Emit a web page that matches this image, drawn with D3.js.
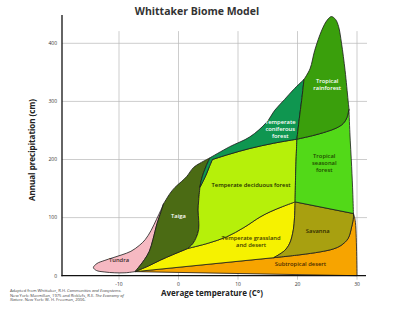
<!DOCTYPE html>
<html><head><meta charset="utf-8">
<script src="https://cdn.jsdelivr.net/npm/d3@7"></script>
<style>body{margin:0;background:#fff}svg{display:block}text{font-family:"Open Sans",sans-serif}</style>
</head><body><svg id="c" width="400" height="309"></svg>
<script>
// ---- data (temperature °C, precipitation cm) ----
const xTicks = [-10, 0, 10, 20, 30];
const yTicks = [0, 100, 200, 300, 400];

const tundraOuter = [[-7.3,7],[-9,5],[-10.7,5],[-12.5,6.5],[-13.8,9],[-14.3,14],[-13.7,21],[-12.5,26],[-11,31],[-9.5,36],[-8,42],[-6.6,52],[-5.6,62],[-4.6,78],[-3.7,97],[-3.0,112],[-2.5,124]];
const tundraTaiga = [[-2.5,124],[-3.0,108],[-3.6,90],[-4.3,62],[-4.9,42],[-5.7,28],[-6.5,17],[-7.3,7]];
const taigaOuter = [[-2.5,124],[-1.4,142],[-0.6,152],[0.5,162],[1.4,171],[2.5,186],[3.5,193],[4.2,197],[5.3,203]];
const taigaRightUpper = [[5.3,203],[4.7,190],[4.2,177],[3.8,163],[3.6,152]];
const taigaRightLower = [[3.6,152],[3.4,130],[3.3,113],[3.4,95],[3.4,80],[3.0,66],[2.4,55],[1.6,47]];
const decidLeftTop = [[5.7,200],[5.2,188],[4.7,175],[4.1,162],[3.6,152]];
const taigaBottom = [[-7.3,7],[-5,17],[-3,27],[-1,36],[1.6,47]];
const grassTop = [[1.6,47],[5,56],[8.1,67],[11,83],[13.7,101],[15.4,110],[17.5,119],[19.6,127]];
const grassBottom = [[-7.3,7],[16,31]];
const savLeft = [[19.6,127],[19.5,100],[19.3,79],[18.7,56],[17.8,43],[16,31]];
const savBottom = [[16,31],[20.4,36],[23.8,41],[26,46],[27.3,52],[28.5,64],[29.1,84],[29.4,100],[29.4,107]];
const savTop = [[19.6,127],[29.4,107]];
const orangeRight = [[29.4,107],[29.7,95],[30,0]];
const orangeBottom = [[30,0],[-7.3,7]];
const tropLineLower = [[19.6,127],[19.7,180],[19.9,235]];
const tropLineUpper = [[19.9,235],[20.3,270],[20.7,302],[21.1,338]];
const coniferDecid = [[19.9,235],[16,228],[12,219],[8.5,209],[5.7,200]];
const coniferOuter = [[5.3,203],[8.6,222],[12,239],[14.8,264],[16.2,285],[17.8,303],[19.3,320],[21.1,338]];
const rainOuter = [[21.1,338],[22.1,356],[22.9,388],[24.1,423],[25,440],[25.7,446],[26.4,441],[26.9,429],[27.4,400],[28,353],[28.5,302],[28.65,287]];
const rainBottom = [[19.9,235],[22.5,241],[24.9,248],[26.5,254],[27.7,262],[28.3,272],[28.65,287]];
const seasonalRight = [[28.65,287],[28.8,246],[29.1,188],[29.3,140],[29.4,107]];

const biomeNames = ["Subtropical desert","Temperate grassland and desert","Savanna","Tundra","Taiga","Temperate deciduous forest","Temperate coniferous forest","Tropical seasonal forest","Tropical rainforest"];
const biomeColors = ["#f7a400","#f6f200","#a8a010","#f6b9c2","#4b6b14","#b6f00a","#0f9650","#52d918","#3a9f0c"];
const R = true;
const biomeEdges = [
  [[grassBottom],[savBottom],[orangeRight],[orangeBottom]],
  [[taigaBottom],[grassTop],[savLeft],[grassBottom,R]],
  [[savTop],[savBottom,R],[savLeft,R]],
  [[tundraOuter],[tundraTaiga]],
  [[tundraTaiga,R],[taigaOuter],[taigaRightUpper],[taigaRightLower],[taigaBottom,R]],
  [[decidLeftTop],[taigaRightLower],[grassTop],[tropLineLower],[coniferDecid]],
  [[coniferOuter],[tropLineUpper,R],[coniferDecid],[decidLeftTop],[taigaRightUpper,R]],
  [[tropLineLower],[rainBottom],[seasonalRight],[savTop,R]],
  [[tropLineUpper],[rainOuter],[rainBottom,R]]
];
// labels: [lines, temp, precip, color]
const labelLines = [["Tundra"],["Taiga"],["Temperate deciduous forest"],["Temperate grassland","and desert"],["Savanna"],["Subtropical desert"],["Temperate","coniferous","forest"],["Tropical","seasonal","forest"],["Tropical","rainforest"]];
const labelTemps = [-10.0, 0.0, 12.2, 12.2, 23.4, 20.5, 17.1, 24.5, 25.0];
const labelPrecs = [24, 100, 152, 62, 73, 16, 261, 203, 331];
const labelColors = ["#3a2a2a","#ffffff","#1e2a00","#3d3a00","#2d2a00","#4a2a00","#ffffff","#1f4a00","#ffffff"];

// ---- drawing ----
const svg = d3.select("#c");
const x = d3.scaleLinear().domain([-10, 30]).range([119, 357]);
const y = d3.scaleLinear().domain([0, 400]).range([275.7, 43.3]);
const axisLeftX = 62, axisRightX = 366, axisTopY = 15;

// grid
const g = svg.append("g");
g.selectAll(".hg").data(yTicks.slice(1)).join("line")
  .attr("x1", axisLeftX).attr("x2", axisRightX + 1)
  .attr("y1", d => y(d)).attr("y2", d => y(d))
  .attr("stroke", "#b8b8b8").attr("stroke-width", 0.7);
g.selectAll(".vg").data(xTicks).join("line")
  .attr("x1", d => x(d)).attr("x2", d => x(d))
  .attr("y1", y(421)).attr("y2", y(0) + 4)
  .attr("stroke", "#b8b8b8").attr("stroke-width", 0.7);

// biomes
const line = d3.line().x(d => x(d[0])).y(d => y(d[1])).curve(d3.curveCatmullRom.alpha(0.5));
function biomePath(edges) {
  let s = "";
  edges.forEach((e, i) => {
    const pts = e[1] ? e[0].slice().reverse() : e[0];
    let p = line(pts);
    if (i > 0) p = "L" + p.slice(1);
    s += p;
  });
  return s + "Z";
}
svg.append("g").selectAll("path").data(biomeEdges).join("path")
  .attr("d", d => biomePath(d))
  .attr("fill", (d, i) => biomeColors[i])
  .attr("stroke", "#1a1a1a").attr("stroke-width", 0.8).attr("stroke-linejoin", "round");

// labels
const lg = svg.append("g").attr("font-size", 5.8).attr("font-weight", 600).attr("text-anchor", "middle");
labelLines.forEach((lines, i) => {
  const t = lg.append("text").attr("x", x(labelTemps[i])).attr("y", y(labelPrecs[i]))
    .attr("fill", labelColors[i]);
  lines.forEach((l, j) => t.append("tspan").attr("x", x(labelTemps[i])).attr("dy", j ? 7 : 0).text(l));
});

// axes
svg.append("line").attr("x1", axisLeftX).attr("x2", axisLeftX).attr("y1", axisTopY).attr("y2", y(0) + 0.5)
  .attr("stroke", "#111").attr("stroke-width", 1.3);
svg.append("line").attr("x1", axisLeftX - 0.6).attr("x2", axisRightX).attr("y1", y(0)).attr("y2", y(0))
  .attr("stroke", "#111").attr("stroke-width", 1.3);
svg.append("g").selectAll("text").data(yTicks).join("text")
  .attr("x", 57).attr("y", d => y(d) + 1.8).attr("text-anchor", "end")
  .attr("font-size", 5).attr("fill", "#333").text(d => d);
svg.append("g").selectAll("text").data(xTicks).join("text")
  .attr("x", d => x(d)).attr("y", 285.5).attr("text-anchor", "middle")
  .attr("font-size", 5).attr("fill", "#333").text(d => d);

// titles
svg.append("text").attr("x", 197).attr("y", 15).attr("text-anchor", "middle")
  .attr("font-size", 10.5).attr("font-weight", "bold").attr("fill", "#333").text("Whittaker Biome Model");
svg.append("text").attr("x", 212).attr("y", 296).attr("text-anchor", "middle")
  .attr("font-size", 8).attr("font-weight", "bold").attr("fill", "#222").text("Average temperature (C°)");
svg.append("text").attr("transform", "translate(35,150) rotate(-90)").attr("text-anchor", "middle")
  .attr("font-size", 8).attr("font-weight", "bold").attr("fill", "#222").text("Annual precipitation (cm)");

// source note
const fn = svg.append("text").attr("font-size", 4.1).attr("fill", "#444");
const t1 = fn.append("tspan").attr("x", 10).attr("y", 292);
t1.append("tspan").text("Adapted from Whittaker, R.H. ");
t1.append("tspan").attr("font-style", "italic").text("Communities and Ecosystems.");
const t2 = fn.append("tspan").attr("x", 10).attr("y", 296.5);
t2.append("tspan").text("New York: Macmillan, 1975 and Ricklefs, R.E. ");
t2.append("tspan").attr("font-style", "italic").text("The Economy of");
const t3 = fn.append("tspan").attr("x", 10).attr("y", 301);
t3.append("tspan").attr("font-style", "italic").text("Nature");
t3.append("tspan").text(". New York: W. H. Freeman, 2006.");
</script></body></html>
